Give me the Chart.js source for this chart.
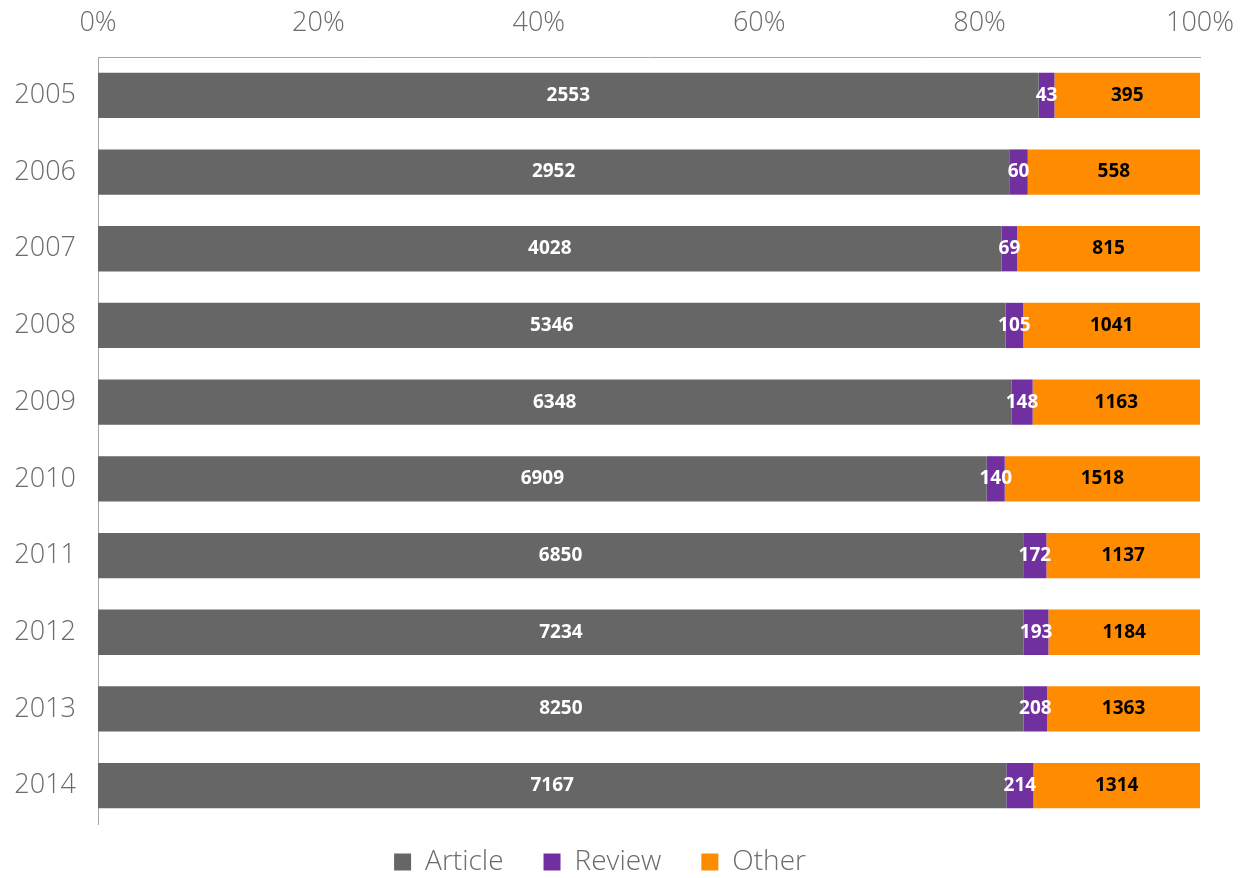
<!DOCTYPE html>
<html>
<head>
<meta charset="utf-8">
<script src="https://cdn.jsdelivr.net/npm/chart.js@4.4.1/dist/chart.umd.min.js"></script>
<style>
  html, body { margin: 0; padding: 0; background: #fff; }
  #wrap { width: 1245px; height: 878px; }
</style>
</head>
<body>
<div id="wrap"><canvas id="pubChart"></canvas></div>
<script>
const years = ["2005", "2006", "2007", "2008", "2009", "2010", "2011", "2012", "2013", "2014"];
const articles = [2553, 2952, 4028, 5346, 6348, 6909, 6850, 7234, 8250, 7167];
const reviews = [43, 60, 69, 105, 148, 140, 172, 193, 208, 214];
const others = [395, 558, 815, 1041, 1163, 1518, 1137, 1184, 1363, 1314];
const tickValues = [0, 20, 40, 60, 80, 100];

// share of each year's total, so the bars fill 0-100%
const totals = years.map((y, i) => articles[i] + reviews[i] + others[i]);
function share(arr) {
  return arr.map((v, i) => (v / totals[i]) * 100);
}

const seriesRaw = [articles, reviews, others];
const labelColors = ["#ffffff", "#ffffff", "#000000"];

// writes the raw count in the middle of each segment
const valueLabels = {
  id: "valueLabels",
  afterDatasetsDraw(chart) {
    const ctx = chart.ctx;
    ctx.save();
    ctx.font = "bold 19px 'Open Sans', sans-serif";
    ctx.textAlign = "center";
    ctx.textBaseline = "middle";
    chart.data.datasets.forEach((ds, di) => {
      const meta = chart.getDatasetMeta(di);
      meta.data.forEach((bar, i) => {
        const mid = (bar.x + bar.base) / 2;
        ctx.fillStyle = labelColors[di];
        ctx.fillText(seriesRaw[di][i], mid, bar.y);
      });
    });
    ctx.restore();
  }
};

// legend: keep wide gaps between items but make the box shorter
const legendTrim = {
  id: "legendTrim",
  beforeUpdate(chart) {
    const lg = chart.legend;
    if (!lg || lg._trimmed) return;
    lg._trimmed = true;
    const fit = lg.fit;
    lg.fit = function () {
      fit.call(this);
      this.height -= 24;
    };
    const draw = lg.draw;
    lg.draw = function () {
      const top = this.top;
      this.top = top - 16;
      draw.call(this);
      this.top = top;
    };
  }
};

const ctx = document.getElementById("pubChart").getContext("2d");
new Chart(ctx, {
  type: "bar",
  data: {
    labels: years,
    datasets: [
      { label: "Article", data: share(articles), backgroundColor: "#666666" },
      { label: "Review", data: share(reviews), backgroundColor: "#7030a0" },
      { label: "Other", data: share(others), backgroundColor: "#ff8c00" }
    ]
  },
  options: {
    indexAxis: "y",
    responsive: true,
    maintainAspectRatio: false,
    animation: false,
    datasets: {
      bar: { barPercentage: 0.59, categoryPercentage: 1.0 }
    },
    layout: { padding: { left: 0, right: 45, top: 0, bottom: 0 } },
    scales: {
      x: {
        position: "top",
        stacked: true,
        min: 0,
        max: 100,
        afterBuildTicks(axis) {
          axis.ticks = tickValues.map(v => ({ value: v }));
        },
        afterFit(scale) {
          scale.height = 57;
          scale.paddingLeft = 0;
          scale.paddingRight = 0;
        },
        grid: { display: false, drawTicks: false },
        border: { display: true, color: "#a6a6a6", width: 1 },
        ticks: {
          color: "#6b6b6b",
          padding: 17,
          font: { family: "'Open Sans', sans-serif", size: 27, weight: 300 },
          callback: v => v + "%"
        }
      },
      y: {
        stacked: true,
        afterFit(scale) {
          scale.width = 98;
        },
        grid: { display: false, drawTicks: false },
        border: { display: true, color: "#a6a6a6", width: 1 },
        ticks: {
          color: "#6b6b6b",
          padding: 22,
          font: { family: "'Open Sans', sans-serif", size: 27, weight: 300 }
        }
      }
    },
    plugins: {
      legend: {
        position: "bottom",
        labels: {
          color: "#6b6b6b",
          boxWidth: 17,
          boxHeight: 17,
          padding: 40,
          font: { family: "'Open Sans', sans-serif", size: 28, weight: 300 }
        }
      },
      tooltip: { enabled: true }
    }
  },
  plugins: [valueLabels, legendTrim]
});
</script>
</body>
</html>
